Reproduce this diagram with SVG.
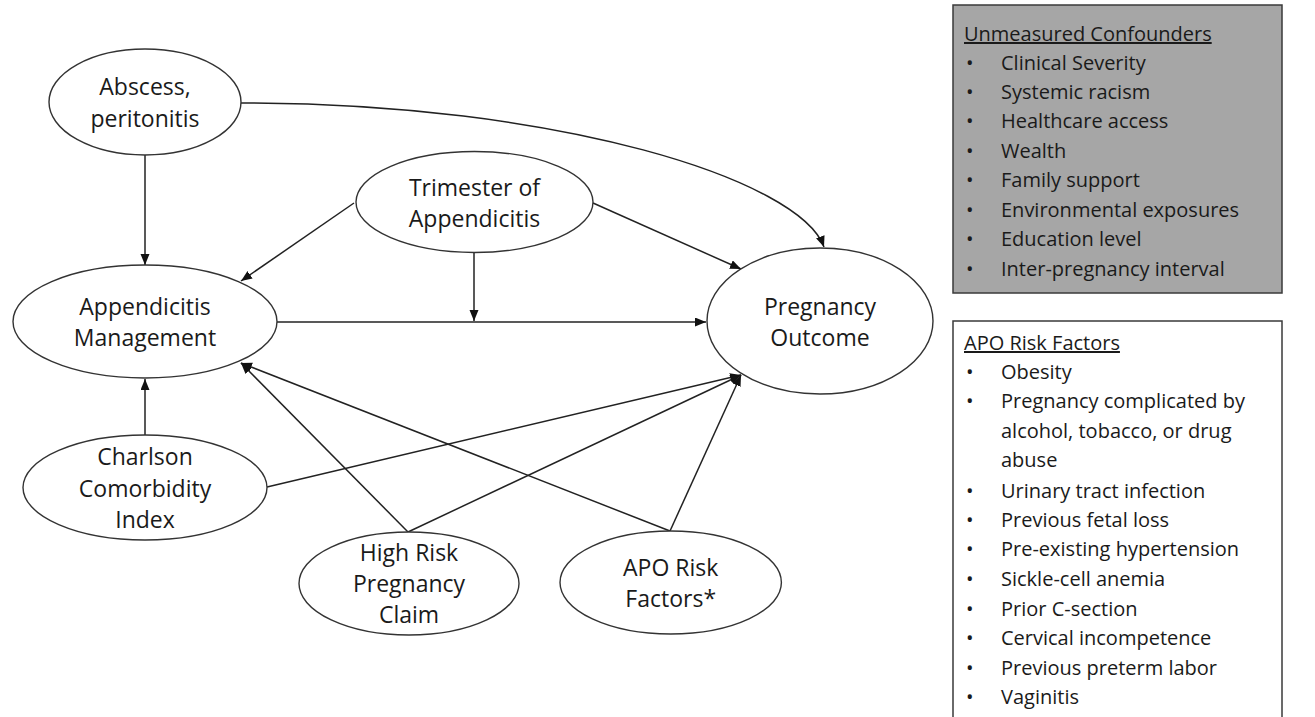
<svg xmlns="http://www.w3.org/2000/svg" width="1315" height="717" viewBox="0 0 1315 717">
<style>
.node ellipse{fill:#fff;stroke:#333;stroke-width:1.4}
.node text{font-family:"Open Sans","Liberation Sans",sans-serif;font-size:23px;fill:#1a1a1a;text-anchor:middle}
.conn path,.conn line{fill:none;stroke:#222;stroke-width:1.5;marker-end:url(#ah)}
.box text{font-family:"Open Sans","Liberation Sans",sans-serif;font-size:20px;fill:#1a1a1a}
.box .hd{text-decoration:underline}
</style>
<defs>
<marker id="ah" markerUnits="userSpaceOnUse" markerWidth="12" markerHeight="10" refX="11" refY="4.5" orient="auto">
<path d="M0,0 L11,4.5 L0,9 z" fill="#111"/>
</marker>
</defs>
<rect width="1315" height="717" fill="#fff"/>
<g id="connectors" class="conn">
<line x1="145" y1="155" x2="145" y2="265"/>
<path d="M241,103 C560,103 800,180 824,247"/>
<line x1="354" y1="203" x2="241" y2="281"/>
<line x1="593" y1="203" x2="741" y2="269"/>
<line x1="474" y1="253" x2="474" y2="321"/>
<line x1="277" y1="322" x2="706" y2="322"/>
<line x1="145" y1="435" x2="145" y2="379"/>
<line x1="267" y1="487" x2="741" y2="375"/>
<line x1="408" y1="532" x2="241" y2="363"/>
<line x1="408" y1="532" x2="741" y2="375"/>
<line x1="670" y1="531" x2="241" y2="363"/>
<line x1="670" y1="531" x2="741" y2="375"/>
</g>
<g id="abscess" class="node">
<ellipse cx="145" cy="102" rx="96" ry="53"/>
<text x="145" y="95">Abscess,</text>
<text x="145" y="127">peritonitis</text>
</g>
<g id="trimester" class="node">
<ellipse cx="474.5" cy="202" rx="118.5" ry="50.5"/>
<text x="474.5" y="196">Trimester of</text>
<text x="474.5" y="227">Appendicitis</text>
</g>
<g id="management" class="node">
<ellipse cx="145" cy="321.5" rx="132" ry="56.5"/>
<text x="145" y="315">Appendicitis</text>
<text x="145" y="346">Management</text>
</g>
<g id="outcome" class="node">
<ellipse cx="820" cy="321" rx="113" ry="73"/>
<text x="820" y="315">Pregnancy</text>
<text x="820" y="346">Outcome</text>
</g>
<g id="charlson" class="node">
<ellipse cx="145" cy="487.5" rx="122" ry="52.5"/>
<text x="145" y="465">Charlson</text>
<text x="145" y="497">Comorbidity</text>
<text x="145" y="528">Index</text>
</g>
<g id="highrisk" class="node">
<ellipse cx="409" cy="583.5" rx="110" ry="51.5"/>
<text x="409" y="561">High Risk</text>
<text x="409" y="592">Pregnancy</text>
<text x="409" y="623">Claim</text>
</g>
<g id="apo" class="node">
<ellipse cx="670.7" cy="582.5" rx="110.7" ry="51.5"/>
<text x="670.7" y="576">APO Risk</text>
<text x="670.7" y="607">Factors*</text>
</g>
<g id="unmeasured" class="box">
<rect x="953" y="5" width="329" height="288" fill="#a6a6a6" stroke="#3a3a3a" stroke-width="1.5"/>
<text class="hd" x="964" y="41">Unmeasured Confounders</text>
<text x="966" y="70">•</text><text x="1001" y="70">Clinical Severity</text>
<text x="966" y="99">•</text><text x="1001" y="99">Systemic racism</text>
<text x="966" y="128">•</text><text x="1001" y="128">Healthcare access</text>
<text x="966" y="158">•</text><text x="1001" y="158">Wealth</text>
<text x="966" y="187">•</text><text x="1001" y="187">Family support</text>
<text x="966" y="217">•</text><text x="1001" y="217">Environmental exposures</text>
<text x="966" y="246">•</text><text x="1001" y="246">Education level</text>
<text x="966" y="276">•</text><text x="1001" y="276">Inter-pregnancy interval</text>
</g>
<g id="apo-list" class="box">
<rect x="953" y="321" width="329" height="410" fill="#fff" stroke="#3a3a3a" stroke-width="1.5"/>
<text class="hd" x="964" y="350">APO Risk Factors</text>
<text x="966" y="379">•</text><text x="1001" y="379">Obesity</text>
<text x="966" y="408">•</text><text x="1001" y="408">Pregnancy complicated by</text>
<text x="1001" y="438">alcohol, tobacco, or drug</text>
<text x="1001" y="467">abuse</text>
<text x="966" y="498">•</text><text x="1001" y="498">Urinary tract infection</text>
<text x="966" y="527">•</text><text x="1001" y="527">Previous fetal loss</text>
<text x="966" y="556">•</text><text x="1001" y="556">Pre-existing hypertension</text>
<text x="966" y="586">•</text><text x="1001" y="586">Sickle-cell anemia</text>
<text x="966" y="616">•</text><text x="1001" y="616">Prior C-section</text>
<text x="966" y="645">•</text><text x="1001" y="645">Cervical incompetence</text>
<text x="966" y="675">•</text><text x="1001" y="675">Previous preterm labor</text>
<text x="966" y="704">•</text><text x="1001" y="704">Vaginitis</text>
</g>
</svg>
